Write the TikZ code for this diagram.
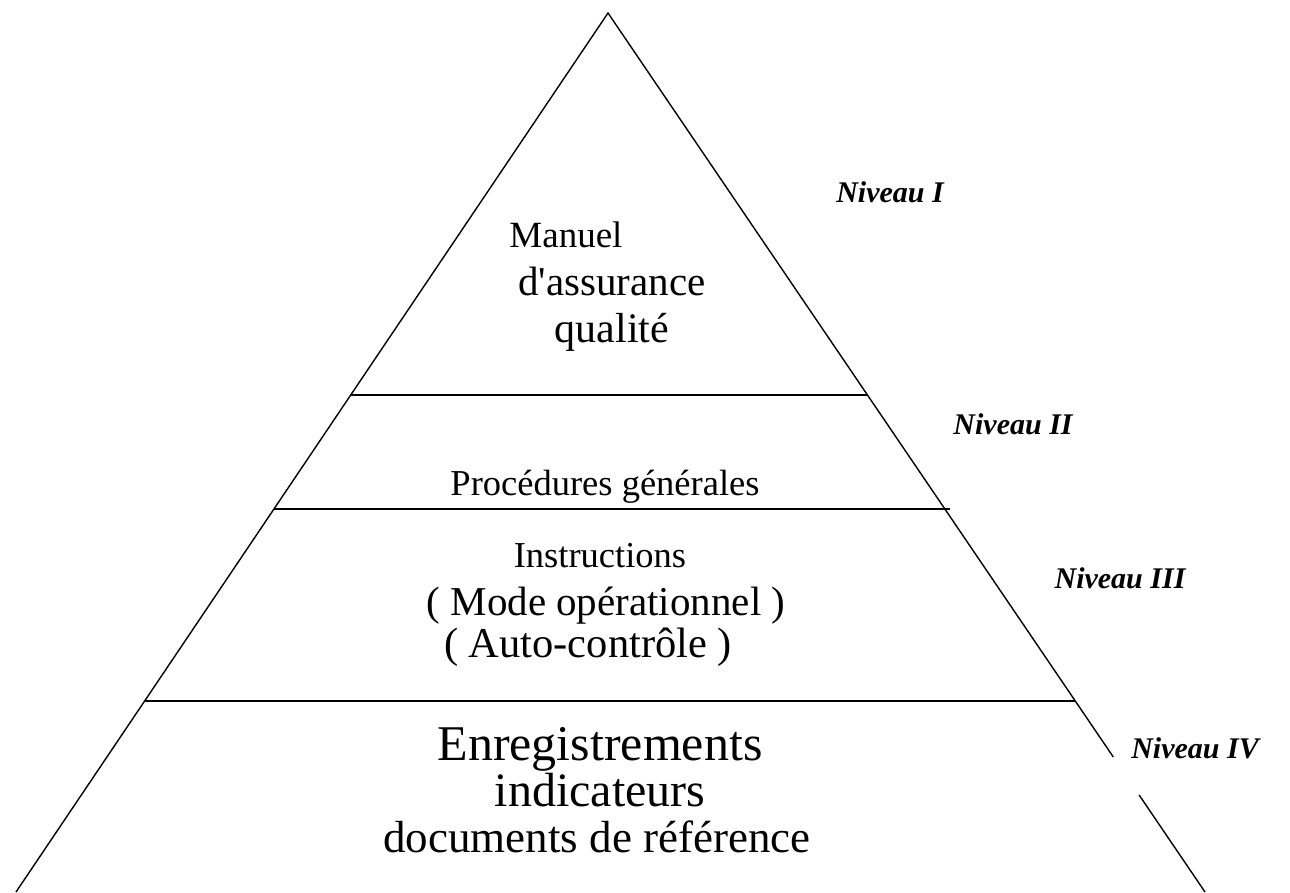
\documentclass[tikz,border=0pt]{standalone}
\usepackage{fontspec}
\setmainfont{Liberation Serif}
\usetikzlibrary{calc}

\begin{document}
\begin{tikzpicture}[x=1pt,y=-1pt,line width=1.4pt,
                    txt/.style={inner sep=0pt,anchor=base},
                    niv/.style={inner sep=0pt,anchor=base,font=\fontsize{30}{36}\selectfont\bfseries\itshape}]
                      \useasboundingbox (0,0) rectangle (1290,892);
                      \coordinate (top) at (608,13);
                      \coordinate (bl) at (16,892);
                      \coordinate (br) at (1205,892);
                      % cotes du triangle
                      \draw (bl)--(top)--($(top)!0.8464!(br)$);
                      \draw ($(top)!0.8896!(br)$)--(br);
                      % separations des niveaux
                      \draw ($(top)!0.4346!(bl)$)--($(top)!0.4346!(br)$);
                      \draw ($(top)!0.5643!(bl)$)--($(top)!0.5643!(br)+(5,0)$);
                      \draw ($(top)!0.7827!(bl)$)--($(top)!0.7827!(br)$);
                      % textes
                      \node[txt,font=\fontsize{37}{44}\selectfont](man)at(566,247){Manuel};
                      \node[txt,font=\fontsize{41}{49}\selectfont](ass)at(612,295){d\textquotesingle assurance};
                      \node[txt,font=\fontsize{42}{50}\selectfont](qua)at(612,342){qualité};
                      \node[txt,font=\fontsize{36.5}{44}\selectfont](pro)at(605,495){Procédures générales};
                      \node[txt,font=\fontsize{36.5}{44}\selectfont](ins)at(600,567){Instructions};
                      \node[txt,font=\fontsize{41}{49}\selectfont](mod)at(606,615){( Mode opérationnel )};
                      \node[txt,font=\fontsize{42.5}{51}\selectfont](aut)at(588,657){( Auto-contrôle )};
                      \node[txt,font=\fontsize{50}{60}\selectfont](enr)at(600,760){Enregistrements};
                      \node[txt,font=\fontsize{48}{58}\selectfont](ind)at(600,806){indicateurs};
                      \node[txt,font=\fontsize{45}{54}\selectfont](doc)at(597,852){documents de référence};
                      % niveaux
                      \node[niv](n1)at(890,202){Niveau I};
                      \node[niv](n2)at(1013,434){Niveau II};
                      \node[niv](n3)at(1120,588){Niveau III};
                      \node[niv](n4)at(1195,758){Niveau IV};
                  \end{tikzpicture}
\end{document}
